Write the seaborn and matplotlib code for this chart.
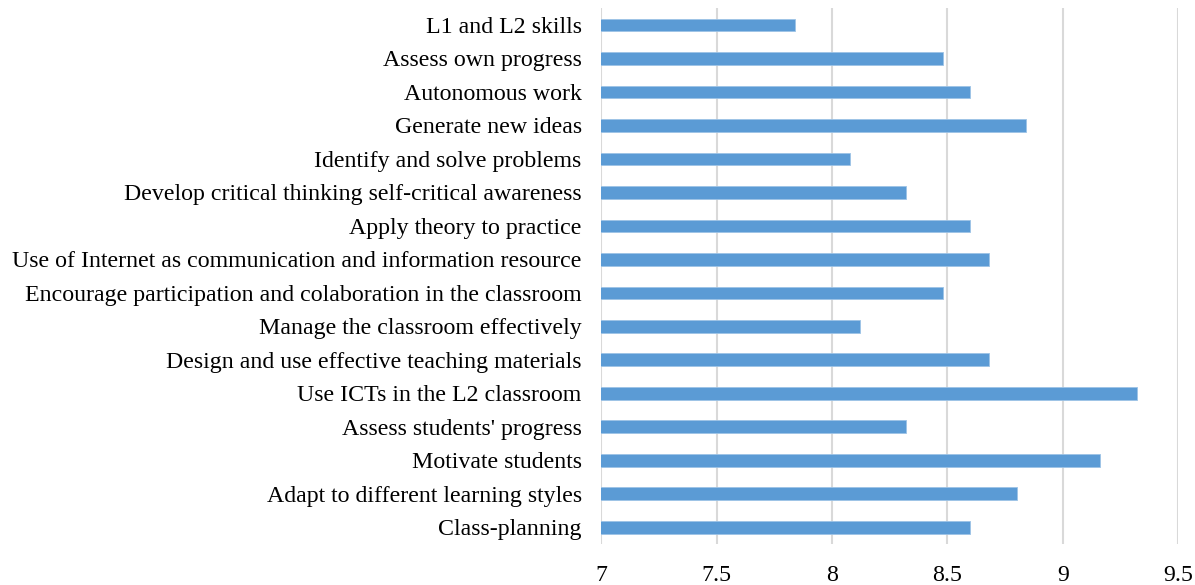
import numpy as np
import pandas as pd
import seaborn as sns
import matplotlib.pyplot as plt

# competences, top to bottom as in the chart
skills = [
    "L1 and L2 skills",
    "Assess own progress",
    "Autonomous work",
    "Generate new ideas",
    "Identify and solve problems",
    "Develop critical thinking self-critical awareness",
    "Apply theory to practice",
    "Use of Internet as communication and information resource",
    "Encourage participation and colaboration in the classroom",
    "Manage the classroom effectively",
    "Design and use effective teaching materials",
    "Use ICTs in the L2 classroom",
    "Assess students' progress",
    "Motivate students",
    "Adapt to different learning styles",
    "Class-planning",
]
scores = [7.84, 8.48, 8.60, 8.84, 8.08, 8.32, 8.60, 8.68,
          8.48, 8.12, 8.68, 9.32, 8.32, 9.16, 8.80, 8.60]
x_ticks = [7, 7.5, 8, 8.5, 9, 9.5]
x_labels = ["7", "7.5", "8", "8.5", "9", "9.5"]

df = pd.DataFrame({"skill": skills, "score": scores})

sns.set_style("white")
plt.rcParams['font.family'] = ['Liberation Serif', 'DejaVu Serif']

fig = plt.figure(figsize=(11.95, 5.85), dpi=100)
ax = fig.add_axes([0.503, 0.070, 0.483, 0.916])

# bars start at 7, the left edge of the axis
sns.barplot(data=df, x="score", y="skill", color="#5B9BD5", saturation=1,
            width=0.38, ax=ax, orient="h", zorder=3,
            edgecolor="#9DC3E6", linewidth=0.6)

ax.set_xlim(7, 9.5)
ax.set_xticks(x_ticks)
ax.set_xticklabels(x_labels)
ax.grid(axis="x", color="#D9D9D9", linewidth=1.5, zorder=0)
ax.set_axisbelow(True)
for s in ax.spines.values():
    s.set_visible(False)
ax.set_xlabel("")
ax.set_ylabel("")
ax.tick_params(axis="x", length=0, labelsize=17.2, pad=15, labelcolor="black")
ax.tick_params(axis="y", length=0, labelsize=17.2, pad=14, labelcolor="black")

fig.savefig("out.png", dpi=100)
